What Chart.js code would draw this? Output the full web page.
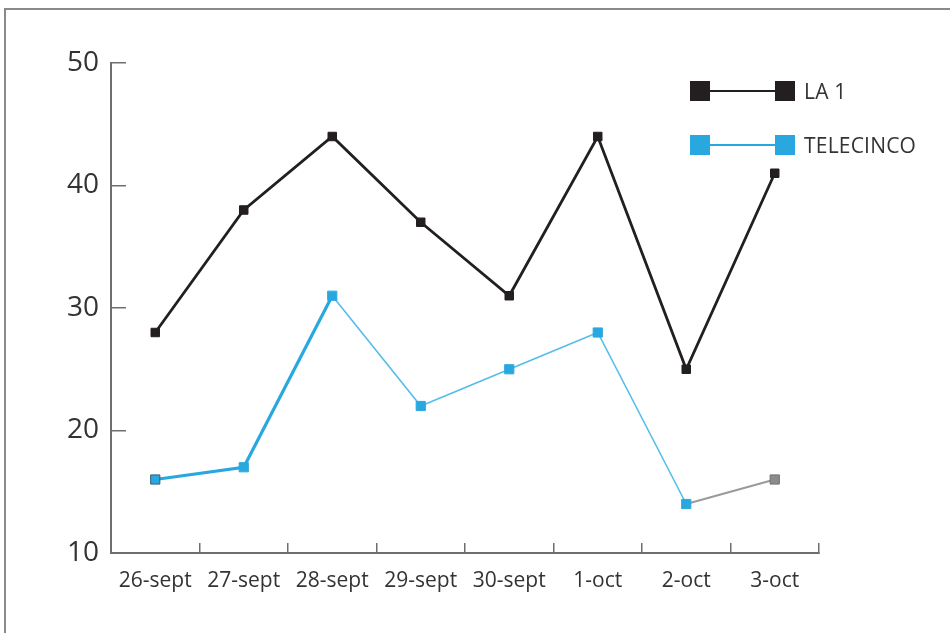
<!DOCTYPE html>
<html>
<head>
<meta charset="utf-8">
<script src="https://cdn.jsdelivr.net/npm/chart.js@4.4.1/dist/chart.umd.min.js"></script>
<style>
    body { margin: 0; background: #ffffff; }
    #wrap { position: relative; width: 950px; height: 633px; overflow: hidden; background: #fff; }
    #frame { position: absolute; left: 4px; top: 8px; width: 1000px; height: 700px; border-top: 2px solid #8a8a8a; border-left: 2px solid #8a8a8a; }
    #chart { position: absolute; left: 0; top: 0; }
    .legendRow { position: absolute; left: 690px; height: 20px; display: flex; align-items: center; font-family: "Open Sans", sans-serif; font-size: 21px; letter-spacing: 0.2px; color: #333; }
    .legendMark { position: relative; width: 105px; height: 20px; margin-right: 9px; }
    .legendMark .sq { position: absolute; top: 0; width: 20px; height: 20px; }
    .legendMark .ln { position: absolute; left: 10px; right: 10px; top: 9px; height: 2px; }
</style>
</head>
<body>
<div id="wrap">
    <div id="frame"></div>
    <canvas id="chart" width="950" height="633"></canvas>
    <div id="legend"></div>
</div>
<script>

const dayLabels = ["26-sept", "27-sept", "28-sept", "29-sept", "30-sept", "1-oct", "2-oct", "3-oct"];

const la1Values = [28, 38, 44, 37, 31, 44, 25, 41];

const telecincoValues = [16, 17, 31, 22, 25, 28, 14, 16];

const seriesNames = ["LA 1", "TELECINCO"];

const yTickValues = [10, 20, 30, 40, 50];


const la1Color = "#231f20";
const telecincoColor = "#29a8e0";
const telecincoThinColor = "#55bde9";
const fadedColor = "#9a9a9a";



const drawLegend = () => {

    const legendBox = document.getElementById("legend");
    const colors = [la1Color, telecincoColor];
    const rowTops = [81, 135];

    seriesNames.forEach((name, i) => {

        const row = document.createElement("div");
        row.className = "legendRow";
        row.style.top = `${rowTops[i]}px`;

        row.innerHTML =
            `<div class="legendMark">` +
            `<div class="ln" style="background:${colors[i]}"></div>` +
            `<div class="sq" style="left:0;background:${colors[i]}"></div>` +
            `<div class="sq" style="right:0;background:${colors[i]}"></div>` +
            `</div><span>${name}</span>`;

        legendBox.appendChild(row);

    });

    return;

};



const drawChart = () => {

    const lastIndex = telecincoValues.length - 1;

    new Chart(
        document.getElementById("chart"), {
            type: "line",
            data: {
                labels: dayLabels,
                datasets: [
                    {
                        label: seriesNames[0],
                        data: la1Values,
                        borderColor: la1Color,
                        borderWidth: 2.8,
                        pointStyle: "rect",
                        pointRadius: 6,
                        pointBorderWidth: 1,
                        pointBackgroundColor: la1Color,
                        pointBorderColor: la1Color,
                        tension: 0
                    },
                    {
                        label: seriesNames[1],
                        data: telecincoValues,
                        borderColor: telecincoColor,
                        borderWidth: 3.2,
                        pointStyle: "rect",
                        pointRadius: 6.5,
                        pointBorderWidth: 1,
                        pointBackgroundColor: (ctx) => ctx.dataIndex === lastIndex ? "#8c8c8c" : telecincoColor,
                        pointBorderColor: (ctx) => {
                            if (ctx.dataIndex === 0) return "#2f5f7a";
                            if (ctx.dataIndex === lastIndex) return "#6f6f6f";
                            return telecincoColor;
                        },
                        segment: {
                            borderWidth: (ctx) => {
                                if (ctx.p0DataIndex < 2) return 3.2;
                                if (ctx.p0DataIndex === lastIndex - 1) return 2;
                                return 1.6;
                            },
                            borderColor: (ctx) => {
                                if (ctx.p0DataIndex < 2) return telecincoColor;
                                if (ctx.p0DataIndex === lastIndex - 1) return fadedColor;
                                return telecincoThinColor;
                            }
                        },
                        tension: 0
                    }
                ]
            },
            options: {
                responsive: false,
                animation: false,
                layout: {
                    padding: { top: 63, right: 131, bottom: 0, left: 0 }
                },
                plugins: {
                    legend: { display: false },
                    tooltip: { enabled: false }
                },
                scales: {
                    x: {
                        offset: true,
                        afterFit: (axis) => { axis.height = 80; },
                        grid: {
                            offset: true,
                            drawOnChartArea: false,
                            drawTicks: true,
                            tickLength: -10,
                            color: "#6e6e6e",
                            lineWidth: 1.5
                        },
                        border: { display: true, color: "#6e6e6e", width: 2 },
                        ticks: {
                            autoSkip: false,
                            maxRotation: 0,
                            padding: 25,
                            color: "#333333",
                            font: { family: "Open Sans", size: 21 }
                        }
                    },
                    y: {
                        min: 10,
                        max: 50,
                        afterFit: (axis) => { axis.width = 111; },
                        afterBuildTicks: (axis) => {
                            axis.ticks = yTickValues.map((v) => ({ value: v }));
                        },
                        grid: {
                            drawOnChartArea: false,
                            drawTicks: true,
                            tickLength: -15,
                            color: "#6e6e6e",
                            lineWidth: 1.5
                        },
                        border: { display: true, color: "#6e6e6e", width: 2 },
                        ticks: {
                            padding: 27,
                            color: "#333333",
                            font: { family: "Open Sans", size: 28 }
                        }
                    }
                }
            }
        }
    );

    return;

};



drawLegend();

drawChart();

</script>
</body>
</html>
